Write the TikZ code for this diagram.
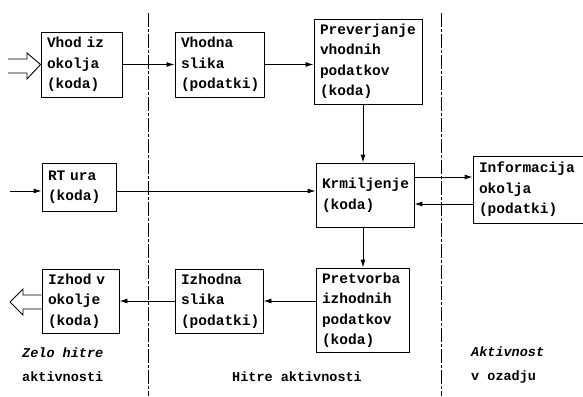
\documentclass[tikz,border=0pt]{standalone}
\usepackage{fontspec}
\setmainfont{Liberation Mono}
\usetikzlibrary{arrows.meta}
\begin{document}
\begin{tikzpicture}[x=1pt,y=-1pt,
  box/.style={draw,line width=0.9pt,inner xsep=6pt,inner ysep=0pt,align=left,
    font=\fontsize{14.5}{20.5}\selectfont\bfseries},
  arr/.style={line width=0.9pt,-{Latex[length=8pt,width=5pt]}},
  ln/.style={line width=0.9pt},
  sep/.style={line width=0.8pt,dash pattern=on 14pt off 2pt on 3pt off 2pt},
  lab/.style={align=left,anchor=west,inner sep=0pt,
    font=\fontsize{13.5}{24}\selectfont\bfseries}]
\useasboundingbox (0,0) rectangle (583,396);
% separators
\coordinate (s1t) at (148,13); \coordinate (s1b) at (148,396);
\coordinate (s2t) at (441,13); \coordinate (s2b) at (441,396);
\draw[sep] (s1t) -- (s1b);
\draw[sep] (s2t) -- (s2b);
% boxes
\node[box,minimum width=81pt,minimum height=65pt,text width=69pt] (vhod) at (81.5,64.5) {Vhod iz\\okolja\\(koda)};
\node[box,minimum width=89pt,minimum height=65pt,text width=77pt] (vslika) at (219.5,64.5) {Vhodna\\slika\\(podatki)};
\node[box,minimum width=106pt,minimum height=85pt,text width=96pt] (prev) at (368,61.5) {Preverjanje\\vhodnih\\podatkov\\(koda)};
\node[box,minimum width=74pt,minimum height=48pt,text width=62pt] (rt) at (79,187) {RT ura\\(koda)};
\node[box,minimum width=98pt,minimum height=64pt,text width=86pt] (krm) at (365,195) {Krmiljenje\\(koda)};
\node[box,minimum width=114pt,minimum height=67pt,text width=102pt] (info) at (530,189.5) {Informacija\\okolja\\(podatki)};
\node[box,minimum width=93pt,minimum height=84pt,text width=81pt] (pretv) at (362.5,310) {Pretvorba\\izhodnih\\podatkov\\(koda)};
\node[box,minimum width=88pt,minimum height=64pt,text width=76pt] (islika) at (219,301) {Izhodna\\slika\\(podatki)};
\node[box,minimum width=77pt,minimum height=64pt,text width=65pt] (izhod) at (80.5,301) {Izhod v\\okolje\\(koda)};
% coordinates
\coordinate (rtin) at (10,191);
\coordinate (vx) at (363,0);
\coordinate (ia) at (0,177);
\coordinate (ib) at (0,204);
% connectors
\draw[arr] (vhod.east) -- (vslika.west);
\draw[arr] (vslika.east) -- (vslika.east -| prev.west);
\draw[arr] (rtin) -- (rt.west |- rtin);
\draw[arr] (rt.east |- rtin) -- (krm.west |- rtin);
\draw[arr] (prev.south -| vx) -- (krm.north -| vx);
\draw[arr] (krm.south -| vx) -- (pretv.north -| vx);
\draw[arr] (krm.east |- ia) -- (info.west |- ia);
\draw[arr] (info.west |- ib) -- (krm.east |- ib);
\draw[arr] (pretv.west |- islika.east) -- (islika.east);
\draw[arr] (islika.west) -- (izhod.east);
% hollow arrows
\draw[ln,line join=miter] (8,59) -- (27,59) -- (27,53) -- (vhod.west) -- (27,79) -- (27,73) -- (8,73);
\draw[ln,line join=miter] (izhod.west |- 0,295) -- (23,295) -- (23,289) -- (10,302) -- (23,315) -- (23,309) -- (izhod.west |- 0,309);
% labels
\node[lab] (l1) at (22,365) {\itshape Zelo hitre\\aktivnosti};
\node[lab] (l2) at (232,377) {Hitre aktivnosti};
\node[lab] (l3) at (471,365) {\itshape Aktivnost\\v ozadju};
\end{tikzpicture}
\end{document}
